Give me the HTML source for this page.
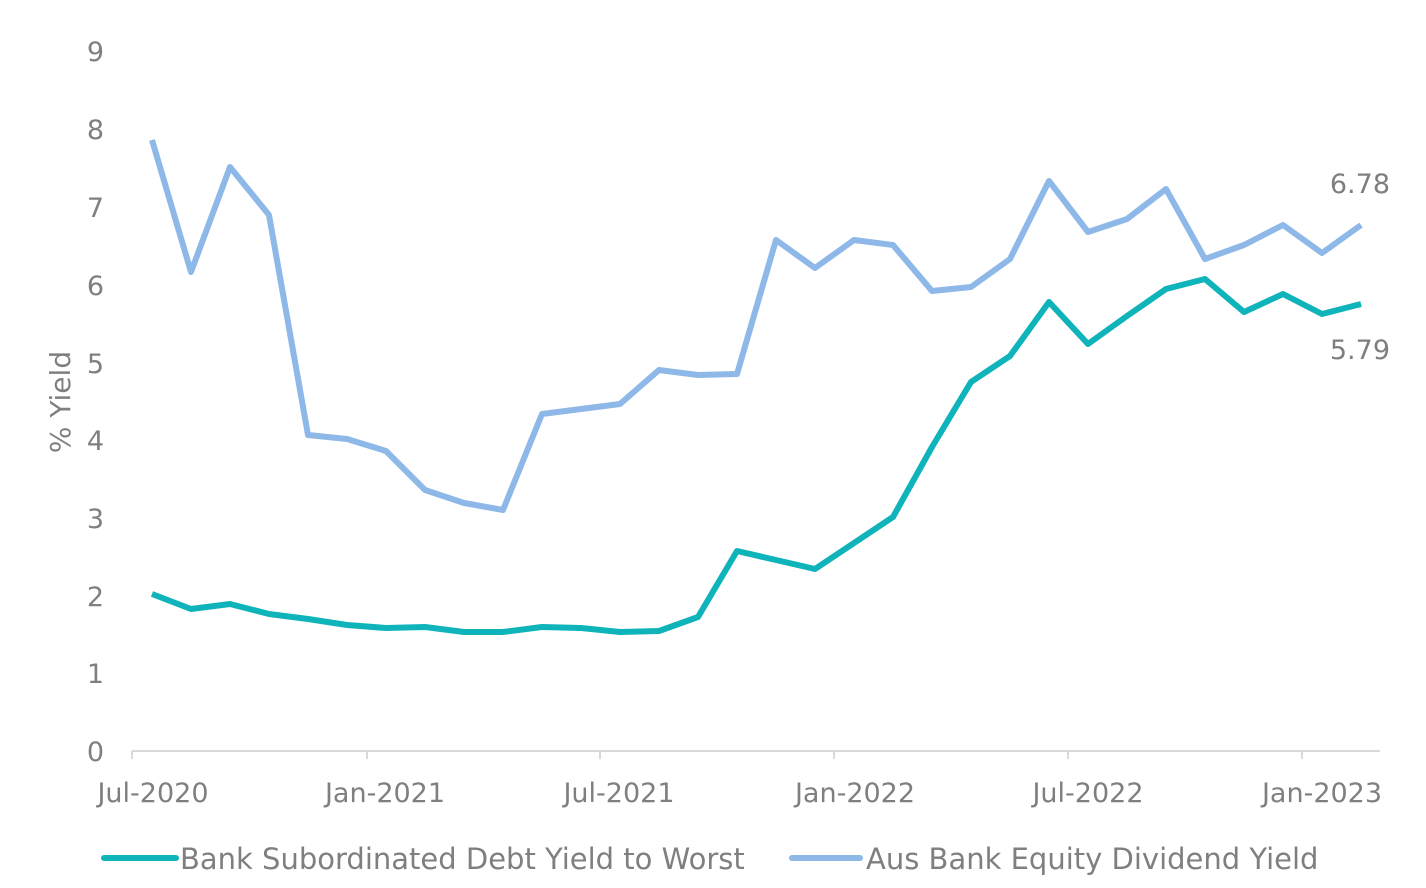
<!DOCTYPE html>
<html><head><style>
body{margin:0;background:#fff;}
svg text{font-family:"DejaVu Sans","Liberation Sans",sans-serif;fill:#7f7f7f;}
</style></head><body>
<svg width="1426" height="883" viewBox="0 0 1426 883" xmlns="http://www.w3.org/2000/svg">
<g font-size="27" text-anchor="end">
<text x="104" y="761">0</text><text x="104" y="683">1</text><text x="104" y="606">2</text>
<text x="104" y="528">3</text><text x="104" y="450">4</text><text x="104" y="373">5</text>
<text x="104" y="295">6</text><text x="104" y="217">7</text><text x="104" y="139">8</text>
<text x="104" y="61">9</text>
</g>
<text transform="translate(70,402) rotate(-90)" font-size="28" text-anchor="middle">% Yield</text>
<line x1="132" y1="751" x2="1380" y2="751" stroke="#d9d9d9" stroke-width="2"/>
<g stroke="#d9d9d9" stroke-width="2">
<line x1="132" y1="751" x2="132" y2="759"/><line x1="367" y1="751" x2="367" y2="759"/>
<line x1="600" y1="751" x2="600" y2="759"/><line x1="834" y1="751" x2="834" y2="759"/>
<line x1="1068" y1="751" x2="1068" y2="759"/><line x1="1302" y1="751" x2="1302" y2="759"/>
</g>
<g font-size="27" text-anchor="middle">
<text x="153" y="802">Jul-2020</text><text x="385" y="802">Jan-2021</text>
<text x="619" y="802">Jul-2021</text><text x="855" y="802">Jan-2022</text>
<text x="1088" y="802">Jul-2022</text><text x="1322" y="802">Jan-2023</text>
</g>
<polyline fill="none" stroke="#8db8e8" stroke-width="6" stroke-linejoin="round" points="152,140 191,272 230,167 269,215 308,435 347,439 386,451 425,490 464,503 503,510 542,414 581,409 620,404 659,370 698,375 737,374 776,240 815,268 854,240 893,245 932,291 971,287 1010,259 1049,181 1088,232 1127,219 1166,189 1205,259 1244,245 1283,225 1322,253 1361,225"/>
<polyline fill="none" stroke="#0fb3ba" stroke-width="6" stroke-linejoin="round" points="152,594 191,609 230,604 269,614 308,619 347,625 386,628 425,627 464,632 503,632 542,627 581,628 620,632 659,631 698,617 737,551 776,560 815,569 854,543 893,517 932,447 971,382 1010,356 1049,302 1088,344 1127,316 1166,289 1205,279 1244,312 1283,294 1322,314 1361,304"/>
<text x="1390" y="193" font-size="27" text-anchor="end">6.78</text>
<text x="1390" y="359" font-size="27" text-anchor="end">5.79</text>
<line x1="104" y1="858" x2="176" y2="858" stroke="#0fb3ba" stroke-width="6" stroke-linecap="round"/>
<text x="180" y="869" font-size="29">Bank Subordinated Debt Yield to Worst</text>
<line x1="792" y1="858" x2="860" y2="858" stroke="#8db8e8" stroke-width="6" stroke-linecap="round"/>
<text x="866" y="869" font-size="29">Aus Bank Equity Dividend Yield</text>
</svg>
</body></html>
